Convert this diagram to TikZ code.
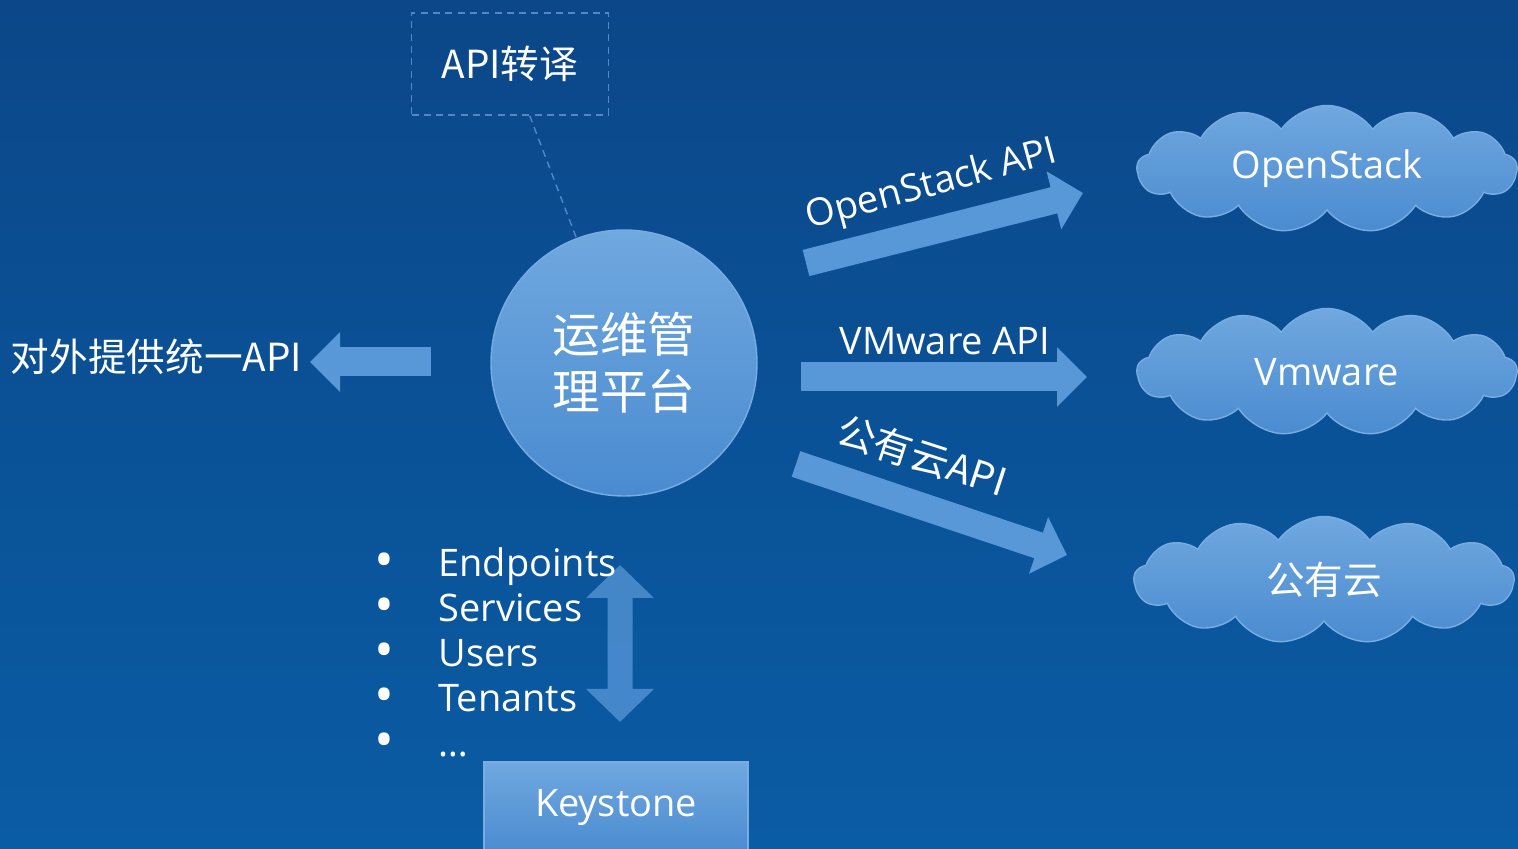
\documentclass[tikz,border=0pt]{standalone}
\usepackage{fontspec}
\setmainfont{Open Sans}
\newfontfamily\cjk{Noto Sans CJK SC}
\usetikzlibrary{arrows.meta,shapes.symbols}

\definecolor{bgtop}{RGB}{11,71,137}
\definecolor{bgbot}{RGB}{10,92,164}
\definecolor{lightblue}{RGB}{112,168,223}
\definecolor{midblue}{RGB}{74,139,208}
\definecolor{arrowblue}{RGB}{88,152,217}
\definecolor{edgeblue}{RGB}{120,172,226}
\definecolor{dashblue}{RGB}{82,136,200}

\tikzset{
  wtext/.style={text=white, font=\fontsize{10.8}{13}\selectfont},
  ctext/.style={text=white, font=\cjk\fontsize{11}{13}\selectfont},
  dot/.style={text=white, font=\fontsize{15}{15}\selectfont, anchor=base},
  blockarrow/.style={arrowblue, line width=0.29cm, -{Triangle[length=0.30cm, width=0.58cm]}},
  cloudbox/.style={cloud, cloud puffs=13, cloud puff arc=110, cloud ignores aspect, minimum width=3.8cm,
    minimum height=1.27cm, inner sep=0pt, top color=lightblue, bottom color=midblue, draw=edgeblue},
}

\begin{document}
\begin{tikzpicture}
 \useasboundingbox (0,0) rectangle (15.18,8.49);
 \shade[top color=bgtop, bottom color=bgbot] (0,0) rectangle (15.18,8.49);

 % middle
 \node[circle, minimum size=2.66cm, top color=lightblue, bottom color=midblue, draw=edgeblue,
   align=center, text=white, font=\cjk\fontsize{13.6}{16.2}\selectfont] (core) at (6.24,4.86) {运维管\\理平台};
 \node[draw=dashblue, dash pattern=on 2pt off 1.5pt, minimum width=1.97cm, minimum height=1.02cm, ctext] (api) at (5.10,7.85) {API转译};
 \draw[dashblue, dash pattern=on 2pt off 1.5pt, thin] (api) -- (core);

 % left side
 \node[ctext, anchor=west, inner sep=0pt] (out) at (0.10,4.92) {对外提供统一API};
 \coordinate (outS) at (4.31,4.87);
 \coordinate (outE) at (3.10,4.87);
 \draw[blockarrow] (outS) -- (outE);

 % right side
 \node[cloudbox, wtext] (os) at (13.27,6.80) {OpenStack};
 \node[cloudbox, wtext] (vm) at (13.27,4.77) {Vmware};
 \node[cloudbox, ctext] (pub) at (13.24,2.69) {公有云};

 \coordinate (osS) at (8.06,5.86);
 \coordinate (osE) at (10.83,6.56);
 \draw[blockarrow, line width=0.27cm] (osS) -- (osE);
 \node[wtext, rotate=15] (osapi) at (9.32,6.63) {OpenStack API};

 \coordinate (vmS) at (8.01,4.72);
 \coordinate (vmE) at (10.87,4.72);
 \draw[blockarrow] (vmS) -- (vmE);
 \node[wtext] (vmapi) at (9.45,5.08) {VMware API};

 \coordinate (pubS) at (7.96,3.85);
 \coordinate (pubE) at (10.67,2.94);
 \draw[blockarrow, line width=0.27cm] (pubS) -- (pubE);
 \node[ctext, rotate=-18] (pubapi) at (9.22,3.93) {公有云API};

 % keystone
 \coordinate (kt) at (6.20,2.84);
 \coordinate (kb) at (6.20,1.27);
 \begin{scope}[transparency group, opacity=0.75]
 \draw[arrowblue, line width=0.25cm,
   {Triangle[length=0.33cm, width=0.66cm]}-{Triangle[length=0.33cm, width=0.66cm]}] (kt) -- (kb);
 \end{scope}

 \node[dot] (d1) at (3.84,2.70) {•};
 \node[wtext, anchor=base west] (ep) at (4.26,2.72) {Endpoints};
 \node[dot] (d2) at (3.84,2.25) {•};
 \node[wtext, anchor=base west] (sv) at (4.26,2.27) {Services};
 \node[dot] (d3) at (3.84,1.80) {•};
 \node[wtext, anchor=base west] (us) at (4.26,1.82) {Users};
 \node[dot] (d4) at (3.84,1.35) {•};
 \node[wtext, anchor=base west] (tn) at (4.26,1.37) {Tenants};
 \node[dot] (d5) at (3.84,0.90) {•};
 \node[wtext, anchor=base west] (more) at (4.26,0.92) {…};

 \node[minimum width=2.64cm, minimum height=0.92cm, top color=lightblue, bottom color=midblue,
   draw=edgeblue, wtext] (ks) at (6.16,0.41) {Keystone};
\end{tikzpicture}
\end{document}
